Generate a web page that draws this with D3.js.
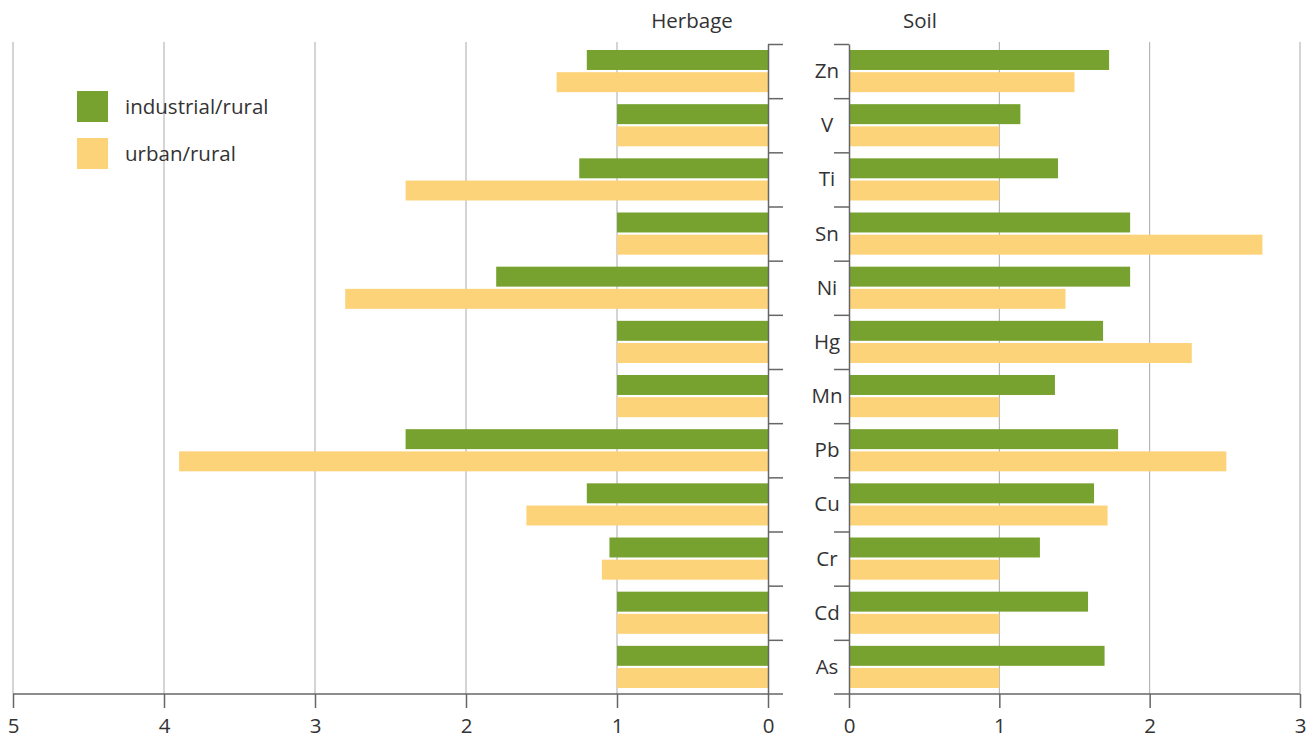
<!DOCTYPE html>
<html>
<head>
<meta charset="utf-8">
<script src="https://cdn.jsdelivr.net/npm/d3@7"></script>
<style>
  body { margin: 0; background: #fff; }
  svg text { font-family: "Open Sans", "Noto Sans", sans-serif; fill: #333; }
</style>
</head>
<body>
<div id="chart"></div>
<script>
// categories top to bottom
const elements = ["Zn", "V", "Ti", "Sn", "Ni", "Hg", "Mn", "Pb", "Cu", "Cr", "Cd", "As"];
const seriesNames = ["industrial/rural", "urban/rural"];

// ratios
const herbageIndustrial = [1.2, 1.0, 1.25, 1.0, 1.8, 1.0, 1.0, 2.4, 1.2, 1.05, 1.0, 1.0];
const herbageUrban      = [1.4, 1.0, 2.4, 1.0, 2.8, 1.0, 1.0, 3.9, 1.6, 1.1, 1.0, 1.0];
const soilIndustrial    = [1.73, 1.14, 1.39, 1.87, 1.87, 1.69, 1.37, 1.79, 1.63, 1.27, 1.59, 1.70];
const soilUrban         = [1.5, 1.0, 1.0, 2.75, 1.44, 2.28, 1.0, 2.51, 1.72, 1.0, 1.0, 1.0];

const herbageTicks = [5, 4, 3, 2, 1, 0];
const soilTicks = [0, 1, 2, 3];

const colors = ["#78a22f", "#fdd37a"];

const width = 1316, height = 738;
const plotTop = 44, plotBottom = 694;
const fontSize = '20.5px';

const svg = d3.select('#chart').append('svg')
    .attr('width', width)
    .attr('height', height);

const xL = d3.scaleLinear().domain([5, 0]).range([13, 768]);
const xR = d3.scaleLinear().domain([0, 3]).range([849, 1300]);

const y = d3.scaleBand().domain(elements).range([plotTop, plotBottom]);
const ySub = d3.scaleBand().domain(seriesNames)
    .range([6, y.bandwidth() - 6]).paddingInner(0.1);

// gridlines
svg.append('g').selectAll('line')
  .data([5, 4, 3, 2, 1])
  .enter().append('line')
    .attr('x1', d => xL(d)).attr('x2', d => xL(d))
    .attr('y1', plotTop - 2).attr('y2', plotBottom)
    .attr('stroke', '#aaa').attr('stroke-width', 1);

svg.append('g').selectAll('line')
  .data([1, 2, 3])
  .enter().append('line')
    .attr('x1', d => xR(d)).attr('x2', d => xR(d))
    .attr('y1', plotTop - 2).attr('y2', plotBottom)
    .attr('stroke', '#aaa').attr('stroke-width', 1);

// build rows
const rows = elements.map((e, i) => ({
  key: e,
  herbage: [herbageIndustrial[i], herbageUrban[i]],
  soil: [soilIndustrial[i], soilUrban[i]]
}));

const rowG = svg.append('g').selectAll('g')
  .data(rows)
  .enter().append('g')
    .attr('transform', d => 'translate(0,' + y(d.key) + ')');

rowG.selectAll('rect.herb')
  .data(d => d.herbage.map((v, j) => ({ s: seriesNames[j], v: v, j: j })))
  .enter().append('rect')
    .attr('class', 'herb')
    .attr('x', d => xL(d.v))
    .attr('width', d => xL(0) - xL(d.v))
    .attr('y', d => ySub(d.s))
    .attr('height', ySub.bandwidth())
    .attr('fill', d => colors[d.j]);

rowG.selectAll('rect.soil')
  .data(d => d.soil.map((v, j) => ({ s: seriesNames[j], v: v, j: j })))
  .enter().append('rect')
    .attr('class', 'soil')
    .attr('x', xR(0))
    .attr('width', d => xR(d.v) - xR(0))
    .attr('y', d => ySub(d.s))
    .attr('height', ySub.bandwidth())
    .attr('fill', d => colors[d.j]);

// category labels
rowG.append('text')
    .attr('x', 827)
    .attr('y', y.bandwidth() / 2 + 7)
    .attr('text-anchor', 'middle')
    .style('font-size', fontSize)
    .text(d => d.key);

// vertical axes with ticks at band edges
const edge = d3.scaleLinear().domain([0, elements.length]).range([plotTop, plotBottom]);
const edgeTicks = d3.range(0, elements.length);

const axL = svg.append('g')
    .attr('transform', 'translate(768,0)')
    .call(d3.axisRight(edge).tickValues(edgeTicks).tickSize(15).tickSizeOuter(0).tickFormat(''));
const axR = svg.append('g')
    .attr('transform', 'translate(849,0)')
    .call(d3.axisLeft(edge).tickValues(edgeTicks).tickSize(15).tickSizeOuter(0).tickFormat(''));

// bottom axes
const bxL = svg.append('g')
    .attr('transform', 'translate(0,' + plotBottom + ')')
    .call(d3.axisBottom(xL).tickValues(herbageTicks).tickFormat(d3.format('d'))
      .tickSize(14).tickSizeOuter(0).tickPadding(10));
bxL.select('.domain').attr('d', 'M13,0H783');

const bxR = svg.append('g')
    .attr('transform', 'translate(0,' + plotBottom + ')')
    .call(d3.axisBottom(xR).tickValues(soilTicks).tickFormat(d3.format('d'))
      .tickSize(14).tickSizeOuter(0).tickPadding(10));
bxR.select('.domain').attr('d', 'M834,0H1300');

[axL, axR, bxL, bxR].forEach(g => {
  g.selectAll('path, line').attr('stroke', '#666').attr('stroke-width', 1.5);
  g.selectAll('text').style('font-size', fontSize).attr('fill', '#333')
    .style('font-family', '"Open Sans", "Noto Sans", sans-serif');
});

// panel titles
svg.append('text').attr('x', 692).attr('y', 28).attr('text-anchor', 'middle')
  .style('font-size', fontSize).text('Herbage');
svg.append('text').attr('x', 920).attr('y', 28).attr('text-anchor', 'middle')
  .style('font-size', fontSize).text('Soil');

// legend
const legend = svg.append('g').attr('transform', 'translate(77,91)');
const li = legend.selectAll('g')
  .data(seriesNames)
  .enter().append('g')
    .attr('transform', (d, i) => 'translate(0,' + (i * 47) + ')');
li.append('rect').attr('width', 31).attr('height', 31)
  .attr('fill', (d, i) => colors[i]);
li.append('text').attr('x', 48).attr('y', 23)
  .style('font-size', fontSize).text(d => d);
</script>
</body>
</html>
